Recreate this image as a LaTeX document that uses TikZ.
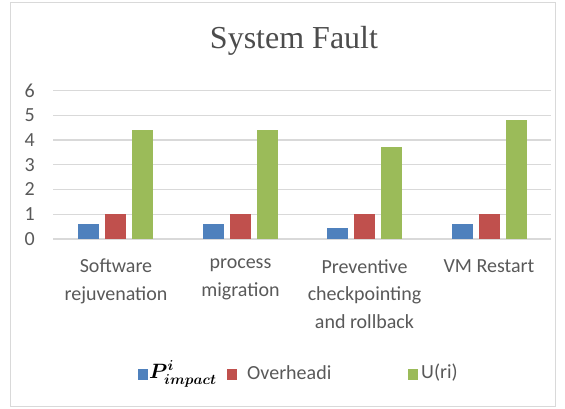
\documentclass[tikz,border=0pt]{standalone}
\usepackage{amsmath}
\usepackage{fontspec}
\setmainfont{Carlito}
\newfontfamily\titlefont{Liberation Serif}
\definecolor{txt}{HTML}{595959}
\definecolor{grid}{HTML}{D9D9D9}
\definecolor{sa}{HTML}{4F81BD}
\definecolor{sb}{HTML}{C0504D}
\definecolor{sc}{HTML}{9BBB59}
\begin{document}
\begin{tikzpicture}[x=1pt,y=-1pt,
  lab/.style={text=txt,font=\fontsize{20}{27.5}\selectfont,inner sep=0pt},
  catlab/.style={lab,align=center,anchor=north},
  ylab/.style={lab,anchor=east},
  gridline/.style={draw=grid,line width=1.2pt},
  sq/.style={inner sep=0pt,minimum width=10pt,minimum height=11pt}]
\useasboundingbox (0,0) rectangle (565,409);
\draw[grid,line width=1pt] (10,3) rectangle (555,406.5);
\node[text=txt!85!black,font=\titlefont\fontsize{32}{36}\selectfont] (title) at (294,41) {System Fault};
% grid and y labels
\foreach \v in {0,...,6}{
  \coordinate (gl\v) at (53,{239-24.75*\v});
  \coordinate (gr\v) at (551,{239-24.75*\v});
  \draw[gridline] (gl\v) -- (gr\v);
  \node[ylab] (y\v) at (35,{239-24.75*\v}) {\v};
}
% bars
\foreach \c/\a/\b/\g [count=\i] in {115.5/0.6/1/4.4, 240/0.6/1/4.4, 364.5/0.45/1/3.7, 489/0.6/1/4.8}{
  \fill[sa] ({\c-37.5},239) rectangle ({\c-16.5},{239-24.75*\a});
  \fill[sb] ({\c-10.5},239) rectangle ({\c+10.5},{239-24.75*\b});
  \fill[sc] ({\c+16.5},239) rectangle ({\c+37.5},{239-24.75*\g});
}
% category labels
\node[catlab] (c1) at (116,259) {Software\\rejuvenation};
\node[catlab] (c2) at (240.5,259) {process\\migration};
\node[catlab] (c3) at (364.5,259) {Preventive\\checkpointing\\and rollback};
\node[catlab] (c4) at (489,259) {VM Restart};
% legend
\node[sq,fill=sa] (k1) at (143,374) {};
\node[anchor=west,inner sep=0pt,font=\fontsize{20}{24}\selectfont] (l1) at (149,374) {$\boldsymbol{P^{i}_{impact}}$};
\node[sq,fill=sb] (k2) at (231.5,374) {};
\node[lab,anchor=west] (l2) at (247,373) {Overheadi};
\node[sq,fill=sc] (k3) at (412.5,374) {};
\node[lab,anchor=west] (l3) at (421,373) {U(ri)};
\end{tikzpicture}
\end{document}
